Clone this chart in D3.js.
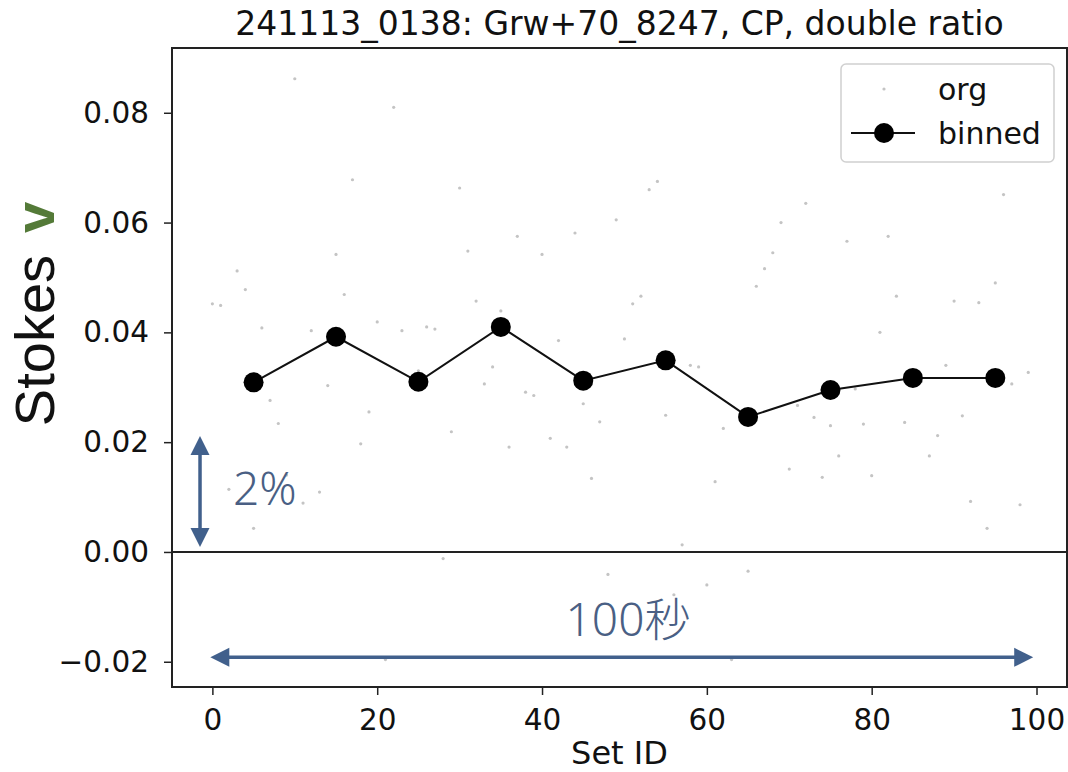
<!DOCTYPE html>
<html>
<head>
<meta charset="utf-8">
<script src="https://cdn.jsdelivr.net/npm/d3@7"></script>
<style>
  html, body { margin: 0; padding: 0; background: #fff; }
  svg { display: block; }
</style>
</head>
<body>
<svg id="chart" width="1068" height="772"></svg>
<script>
// ---- data ----
const titleText = "241113_0138: Grw+70_8247, CP, double ratio";
const xLabelText = "Set ID";
const orgIds = d3.range(0, 100);
const orgValues = [
  0.0452, 0.0449, 0.0114, 0.0512, 0.0478, 0.0043, 0.0408, 0.0276, 0.0234, 0.0140,
  0.0862, 0.0089, 0.0403, 0.0109, 0.0303, 0.0542, 0.0469, 0.0678, 0.0197, 0.0255,
  0.0419, -0.0196, 0.0810, 0.0403, 0.0310, 0.0330, 0.0410, 0.0406, -0.0012, 0.0219,
  0.0663, 0.0548, 0.0457, 0.0306, 0.0337, 0.0439, 0.0191, 0.0575, 0.0291, 0.0285,
  0.0542, 0.0207, 0.0385, 0.0191, 0.0581, 0.0270, 0.0134, 0.0237, -0.0041, 0.0605,
  0.0388, 0.0452, 0.0466, 0.0660, 0.0675, 0.0249, -0.0078, 0.0013, 0.0340, 0.0337,
  -0.0060, 0.0128, 0.0225, -0.0196, 0.0250, -0.0035, 0.0484, 0.0516, 0.0545, 0.0600,
  0.0151, 0.0267, 0.0635, 0.0245, 0.0136, 0.0230, 0.0175, 0.0566, 0.0297, 0.0233,
  0.0139, 0.0400, 0.0575, 0.0466, 0.0236, 0.0310, 0.0310, 0.0175, 0.0212, 0.0340,
  0.0457, 0.0248, 0.0092, 0.0454, 0.0043, 0.0490, 0.0651, 0.0306, 0.0086, 0.0327
];
const binnedIds = [5, 15, 25, 35, 45, 55, 65, 75, 85, 95];
const binnedValues = [0.0309, 0.0392, 0.0310, 0.0410, 0.0312, 0.0349, 0.0246, 0.0295, 0.0317, 0.0317];
const xTicks = [0, 20, 40, 60, 80, 100];
const yTicks = [-0.02, 0.00, 0.02, 0.04, 0.06, 0.08];
const legendLabels = ["org", "binned"];

// ---- layout ----
const svg = d3.select("#chart");
const L = 172, R = 1067, T = 48, B = 687;
const x = d3.scaleLinear().domain([-4.9, 103.7]).range([L, R]);
const y = d3.scaleLinear().domain([-0.0246, 0.0918]).range([B, T]);

const tickFont = "DejaVu Sans, sans-serif";

// org points
svg.append("g").selectAll("circle")
  .data(orgIds.map((id, i) => [id, orgValues[i]]))
  .join("circle")
  .attr("cx", d => x(d[0]))
  .attr("cy", d => y(d[1]))
  .attr("r", 1.6)
  .attr("fill", "#c4c4c4");

// zero line
svg.append("line")
  .attr("x1", L).attr("x2", R)
  .attr("y1", y(0)).attr("y2", y(0))
  .attr("stroke", "#222").attr("stroke-width", 2);

// binned line + markers
const lineGen = d3.line().x(d => x(d[0])).y(d => y(d[1]));
const binned = binnedIds.map((id, i) => [id, binnedValues[i]]);
svg.append("path")
  .attr("d", lineGen(binned))
  .attr("fill", "none").attr("stroke", "#111").attr("stroke-width", 2);
svg.append("g").selectAll("circle")
  .data(binned)
  .join("circle")
  .attr("cx", d => x(d[0]))
  .attr("cy", d => y(d[1]))
  .attr("r", 10)
  .attr("fill", "#000");

// axes
const xAxis = d3.axisBottom(x).tickValues(xTicks).tickSize(8).tickPadding(8).tickFormat(d3.format("d"));
const yAxis = d3.axisLeft(y).tickValues(yTicks).tickSize(8).tickPadding(15).tickFormat(d3.format(".2f"));
const gx = svg.append("g").attr("transform", `translate(0,${B})`).call(xAxis);
const gy = svg.append("g").attr("transform", `translate(${L},0)`).call(yAxis);
[gx, gy].forEach(g => {
  g.select(".domain").remove();
  g.selectAll(".tick line").attr("stroke", "#222").attr("stroke-width", 1.5);
  g.selectAll(".tick text").attr("font-family", tickFont).attr("font-size", 29.5).attr("fill", "#111");
});
gx.selectAll(".tick text").attr("dy", "0.92em");

// frame
svg.append("rect")
  .attr("x", L).attr("y", T).attr("width", R - L).attr("height", B - T)
  .attr("fill", "none").attr("stroke", "#222").attr("stroke-width", 2);

// title & x label
svg.append("text")
  .attr("x", (L + R) / 2).attr("y", 35)
  .attr("text-anchor", "middle")
  .attr("font-family", tickFont).attr("font-size", 33).attr("fill", "#111")
  .text(titleText);
svg.append("text")
  .attr("x", (L + R) / 2).attr("y", 764)
  .attr("text-anchor", "middle")
  .attr("font-family", tickFont).attr("font-size", 32).attr("fill", "#111")
  .text(xLabelText);

// y label "Stokes v"
const yl = svg.append("text")
  .attr("transform", "translate(54,314) rotate(-90)")
  .attr("text-anchor", "middle")
  .attr("font-family", "Liberation Sans, Arial, sans-serif")
  .attr("font-size", 56).attr("fill", "#111");
yl.append("tspan").text("Stokes");
yl.append("tspan").attr("dx", 22).attr("font-weight", "bold").attr("fill", "#547a38").text("v");

// legend
const lg = svg.append("g");
lg.append("rect")
  .attr("x", 841).attr("y", 64).attr("width", 213).attr("height", 98)
  .attr("rx", 5).attr("fill", "#fff").attr("stroke", "#d0d0d0").attr("stroke-width", 1.5);
lg.append("circle").attr("cx", 884).attr("cy", 89).attr("r", 1.6).attr("fill", "#c4c4c4");
lg.append("line").attr("x1", 851).attr("x2", 915).attr("y1", 133).attr("y2", 133)
  .attr("stroke", "#111").attr("stroke-width", 2);
lg.append("circle").attr("cx", 884).attr("cy", 133).attr("r", 10).attr("fill", "#000");
lg.selectAll("text.lab")
  .data(legendLabels)
  .join("text")
  .attr("class", "lab")
  .attr("x", 938).attr("y", (d, i) => 100 + i * 44)
  .attr("font-family", tickFont).attr("font-size", 30).attr("fill", "#111")
  .text(d => d);

// annotations (arrows + text)
const ac = "#41608c";
function arrowHead(x0, y0, dx, dy, len, half) {
  const bx = x0 - dx * len, by = y0 - dy * len;
  const px = -dy * half, py = dx * half;
  return `M${x0},${y0}L${bx + px},${by + py}L${bx - px},${by - py}Z`;
}
// vertical arrow (2%)
const vx = x(-1.5), vTop = y(0.0211), vBot = y(0.0009);
svg.append("line").attr("x1", vx).attr("x2", vx).attr("y1", vTop + 15).attr("y2", vBot - 15)
  .attr("stroke", ac).attr("stroke-width", 3.5);
svg.append("path").attr("d", arrowHead(vx, vTop, 0, -1, 19, 9.5)).attr("fill", ac);
svg.append("path").attr("d", arrowHead(vx, vBot, 0, 1, 19, 9.5)).attr("fill", ac);
svg.append("text").attr("x", 233).attr("y", 505)
  .attr("font-family", "Noto Sans, Noto Sans CJK JP, sans-serif").attr("font-weight", 300)
  .attr("font-size", 46).attr("fill", "#4a5f84").text("2%");
// horizontal arrow (100秒)
const hy = y(-0.0192), hL = x(-0.25), hR = x(99.6);
svg.append("line").attr("x1", hL + 15).attr("x2", hR - 15).attr("y1", hy).attr("y2", hy)
  .attr("stroke", ac).attr("stroke-width", 3.5);
svg.append("path").attr("d", arrowHead(hL, hy, -1, 0, 19, 9.5)).attr("fill", ac);
svg.append("path").attr("d", arrowHead(hR, hy, 1, 0, 19, 9.5)).attr("fill", ac);
svg.append("text").attr("x", 628).attr("y", 636)
  .attr("text-anchor", "middle")
  .attr("font-family", "Noto Sans, Noto Sans CJK JP, sans-serif").attr("font-weight", 300)
  .attr("font-size", 46).attr("fill", "#4a5f84").text("100秒");
</script>
</body>
</html>
